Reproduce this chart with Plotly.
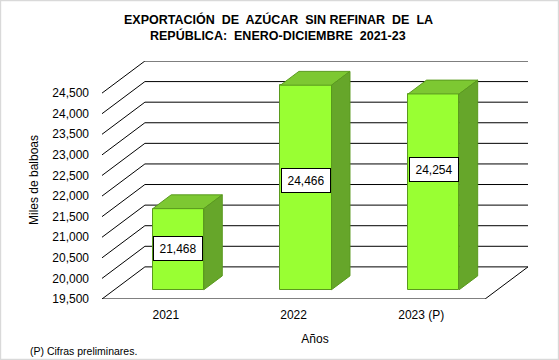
import plotly.graph_objects as go

# ---- data ----
categories = ["2021", "2022", "2023 (P)"]
values = [21468, 24466, 24254]
value_labels = ["21,468", "24,466", "24,254"]
y_ticks = [19500, 20000, 20500, 21000, 21500, 22000, 22500, 23000, 23500, 24000, 24500]
title_lines = ["EXPORTACIÓN  DE  AZÚCAR  SIN REFINAR  DE  LA", "REPÚBLICA:  ENERO-DICIEMBRE  2021-23"]

# ---- styling / pseudo-3D geometry constants ----
DX = 0.336          # depth offset of back wall (category units)
DY = 780            # depth offset of back wall (value units)
F0 = 0.29           # depth fraction of bar front plane
FD = 0.43           # bar depth fraction
BW = 0.4            # bar width
YMIN, YMAX = 19500, 24500
LABEL_FRAC = [0.62, 0.58, 0.66]   # label vertical placement within bar (fraction of height)
ML, MR, MT, MB = 102, 31, 61, 61
W, H = 559, 360
PW, PH = W - ML - MR, H - MT - MB

FRONT = "#99FF33"
TOP = "#7DC832"
SIDE = "#66A62A"
EDGE = "#5A9A1E"
FONT = "Liberation Sans, Arial, sans-serif"

fig = go.Figure()
shapes = []
# back wall gridlines + left diagonals
for t in y_ticks:
    shapes.append(dict(type="line", xref="x", yref="y", layer="below",
                       x0=-0.5 + DX, x1=2.5 + DX, y0=t + DY, y1=t + DY,
                       line=dict(color="#000000", width=1)))
    shapes.append(dict(type="line", xref="x", yref="y", layer="below",
                       x0=-0.5, x1=-0.5 + DX, y0=t, y1=t + DY,
                       line=dict(color="#000000", width=1)))
# floor front edge and right diagonal
shapes.append(dict(type="line", xref="x", yref="y", layer="below",
                   x0=-0.5, x1=2.5, y0=YMIN, y1=YMIN,
                   line=dict(color="#000000", width=1)))
shapes.append(dict(type="line", xref="x", yref="y", layer="below",
                   x0=2.5, x1=2.5 + DX, y0=YMIN, y1=YMIN + DY,
                   line=dict(color="#000000", width=1)))
# outer grey frame
shapes.append(dict(type="rect", xref="paper", yref="paper",
                   x0=-ML / PW + 0.001, x1=1 + MR / PW - 0.001,
                   y0=-MB / PH + 0.002, y1=1 + MT / PH - 0.002,
                   line=dict(color="#D9D9D9", width=1.5)))

xs = list(range(len(categories)))
base = YMIN + F0 * DY
fig.add_trace(go.Bar(
    x=[i + F0 * DX for i in xs], y=[v - YMIN for v in values], base=base,
    width=BW, marker=dict(color=FRONT, line=dict(color=EDGE, width=1)),
    hoverinfo="skip", showlegend=False))

for i, v in zip(xs, values):
    xl = i + F0 * DX - BW / 2
    xr = i + F0 * DX + BW / 2
    top = v + F0 * DY
    # top face
    fig.add_trace(go.Scatter(
        x=[xl, xr, xr + FD * DX, xl + FD * DX, xl],
        y=[top, top, top + FD * DY, top + FD * DY, top],
        fill="toself", fillcolor=TOP, mode="lines",
        line=dict(color=EDGE, width=1), hoverinfo="skip", showlegend=False))
    # side face
    fig.add_trace(go.Scatter(
        x=[xr, xr, xr + FD * DX, xr + FD * DX, xr],
        y=[base, top, top + FD * DY, base + FD * DY, base],
        fill="toself", fillcolor=SIDE, mode="lines",
        line=dict(color=EDGE, width=1), hoverinfo="skip", showlegend=False))

annotations = []
for i, v, lab, fr in zip(xs, values, value_labels, LABEL_FRAC):
    annotations.append(dict(
        x=i + F0 * DX, y=YMIN + fr * (v - YMIN), xref="x", yref="y",
        text=lab, showarrow=False, bgcolor="#FFFFFF", bordercolor="#000000",
        borderwidth=1, borderpad=2, width=44, height=19,
        font=dict(family=FONT, size=12, color="#000000")))
# title lines
for line, py in zip(title_lines, [19.6, 35.6]):
    annotations.append(dict(
        x=(W / 2 - 1.5 - ML) / PW, y=1 + (MT - py) / PH, xref="paper", yref="paper",
        xanchor="center", yanchor="middle", showarrow=False,
        text="<b>" + line + "</b>", font=dict(family=FONT, size=12.5, color="#000000")))
annotations.append(dict(
    x=(28 - ML) / PW, y=-(350.5 - (H - MB)) / PH, xref="paper", yref="paper",
    xanchor="left", yanchor="middle", showarrow=False,
    text="(P) Cifras preliminares.", font=dict(family=FONT, size=10.5, color="#000000")))

fig.update_layout(
    width=W, height=H,
    margin=dict(l=ML, r=MR, t=MT, b=MB),
    paper_bgcolor="#FFFFFF", plot_bgcolor="#FFFFFF",
    xaxis=dict(range=[-0.5, 2.5 + DX], tickmode="array", tickvals=xs, ticktext=categories,
               showgrid=False, zeroline=False, showline=False, ticks="",
               ticklabelstandoff=7,
               tickfont=dict(family=FONT, size=12, color="#000000"),
               title=dict(text="Años", standoff=13, font=dict(family=FONT, size=12, color="#000000"))),
    yaxis=dict(range=[YMIN, YMAX + DY], tickmode="array", tickvals=y_ticks,
               tickformat=",d", showgrid=False, zeroline=False, showline=False, ticks="",
               ticklabelstandoff=12,
               tickfont=dict(family=FONT, size=12, color="#000000"),
               title=dict(text="Miles de balboas", standoff=11, font=dict(family=FONT, size=12, color="#000000"))),
    shapes=shapes, annotations=annotations, bargap=0,
)

fig.write_html("out.html", config={"displayModeBar": False},
               post_script="document.body.style.margin='0';document.body.style.padding='0';")
